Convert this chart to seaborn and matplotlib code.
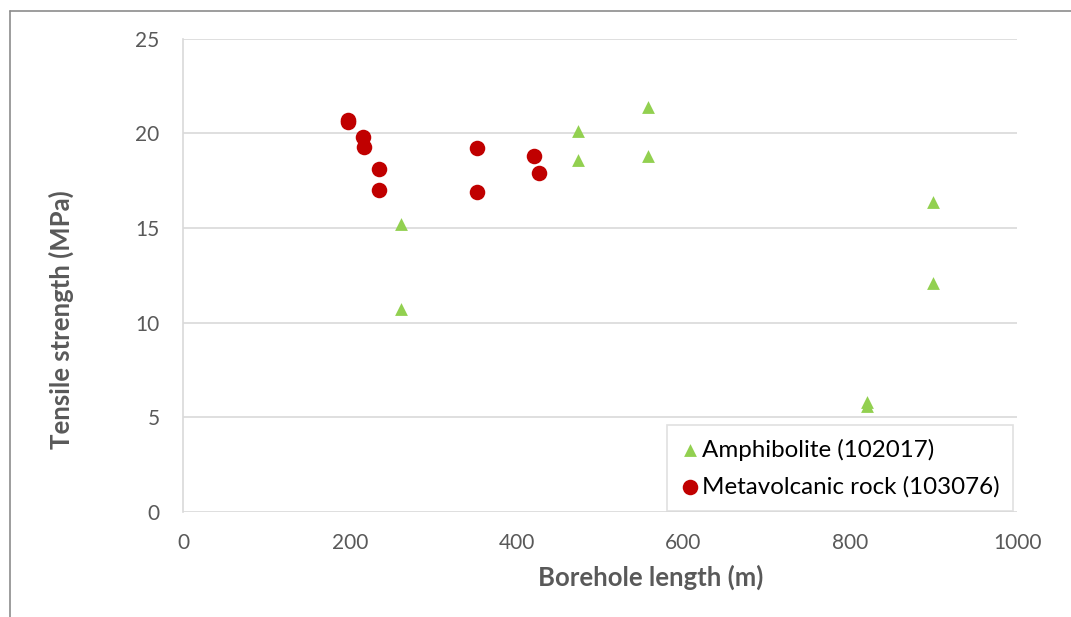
import matplotlib.pyplot as plt
import pandas as pd
import seaborn as sns
from matplotlib.lines import Line2D


# values
amphibolite_length = [261, 261, 474, 474, 557, 557, 820, 820, 899, 899]
amphibolite_strength = [15.2, 10.7, 20.1, 18.6, 21.4, 18.8, 5.6, 5.8, 16.4, 12.1]

metavolcanic_length = [198, 198, 216, 217, 235, 235, 352, 352, 421, 427]
metavolcanic_strength = [20.7, 20.6, 19.8, 19.3, 18.1, 17.0, 19.2, 16.9, 18.8, 17.9]

AMPHIBOLITE_LABEL = "Amphibolite (102017)"
METAVOLCANIC_LABEL = "Metavolcanic rock (103076)"

x_ticks = [0, 200, 400, 600, 800, 1000]
y_ticks = [0, 5, 10, 15, 20, 25]

GREEN = "#92D050"
RED = "#C00000"
TEXT_GREY = "#595959"
GRID_GREY = "#D9D9D9"


def main():
    amph = pd.DataFrame({"length": amphibolite_length, "strength": amphibolite_strength})
    meta = pd.DataFrame({"length": metavolcanic_length, "strength": metavolcanic_strength})

    sns.set_style("white")
    plt.rcParams["font.family"] = ["Lato", "DejaVu Sans"]

    fig = plt.figure(figsize=(10.71, 6.17), dpi=100)
    ax = fig.add_axes([0.1709, 0.1702, 0.7787, 0.7671])

    sns.scatterplot(data=amph, x="length", y="strength", ax=ax, marker="^",
                    color=GREEN, s=85, linewidth=0, label=AMPHIBOLITE_LABEL, zorder=3)
    sns.scatterplot(data=meta, x="length", y="strength", ax=ax, marker="o",
                    color=RED, s=125, linewidth=0, label=METAVOLCANIC_LABEL, zorder=3)

    ax.set_xlim(0, 1000)
    ax.set_ylim(0, 25)
    ax.set_xticks(x_ticks)
    ax.set_yticks(y_ticks)

    # horizontal gridlines only, Excel style
    ax.yaxis.grid(True, color=GRID_GREY, linewidth=1.2)
    ax.xaxis.grid(False)
    ax.set_axisbelow(True)
    for side in ["top", "right", "bottom"]:
        ax.spines[side].set_visible(False)
    ax.spines["left"].set_color(GRID_GREY)
    ax.spines["left"].set_linewidth(1.2)

    ax.tick_params(axis="both", length=0, labelsize=15, labelcolor=TEXT_GREY)
    ax.tick_params(axis="x", pad=15)
    ax.tick_params(axis="y", pad=17)

    ax.set_xlabel("Borehole length (m)", fontsize=18.5, fontweight="bold", color=TEXT_GREY)
    ax.set_ylabel("Tensile strength (MPa)", fontsize=18.5, fontweight="bold", color=TEXT_GREY)
    ax.xaxis.set_label_coords(0.561, -0.112)
    ax.yaxis.set_label_coords(-0.131, 0.406)

    legend = ax.legend(loc="lower right", bbox_to_anchor=(0.995, 0.002),
                       fontsize=17.4, frameon=True, fancybox=False,
                       handletextpad=0.1, borderpad=0.55, labelspacing=0.65,
                       handlelength=0.8, borderaxespad=0, labelcolor="#000000")
    legend.get_frame().set_edgecolor(GRID_GREY)
    legend.get_frame().set_linewidth(1.2)

    # chart outer frame (top and left edges visible in the reference)
    fig.add_artist(Line2D([10 / 1071, 1.0], [1 - 11 / 617, 1 - 11 / 617],
                          color="#8C8C8C", linewidth=1.2, transform=fig.transFigure))
    fig.add_artist(Line2D([10 / 1071, 10 / 1071], [0.0, 1 - 11 / 617],
                          color="#8C8C8C", linewidth=1.2, transform=fig.transFigure))

    fig.savefig("out.png", dpi=100)
    plt.close(fig)


if __name__ == "__main__":
    main()
